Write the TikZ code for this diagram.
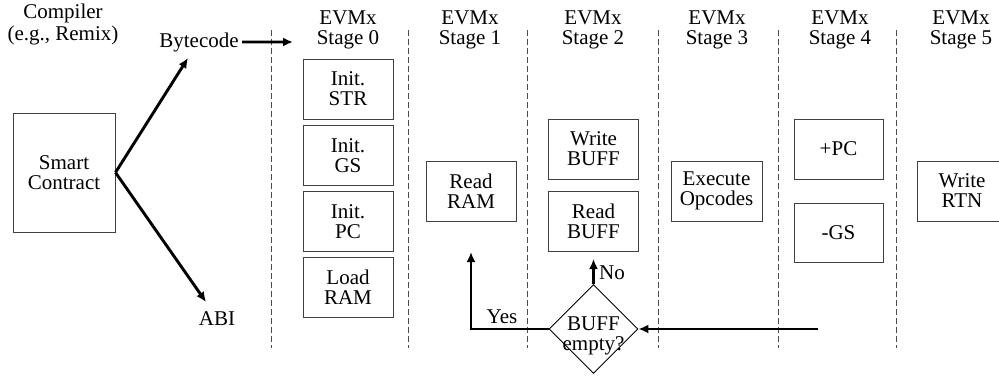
\documentclass[tikz,border=0pt]{standalone}
\usepackage{fontspec}
\setmainfont{Liberation Serif}
\usetikzlibrary{arrows.meta,shapes.geometric}
\begin{document}
\begin{tikzpicture}[x=1pt,y=-1pt,
  every node/.style={font=\fontsize{21}{20}\selectfont},
  stagebox/.style={draw=black!75,line width=1pt,minimum width=90pt,minimum height=60pt,inner sep=0pt,align=center},
  header/.style={anchor=north,inner sep=0pt,align=center},
  divider/.style={draw=black!70,line width=0.9pt,dash pattern=on 5.5pt off 3.5pt},
  flow/.style={line width=2.9pt,-{Latex[length=10pt,width=9pt]}}]
\useasboundingbox (0,0) rectangle (999,380);

% stage dividers
\foreach \xx/\nm in {271/d0,408/d1,527/d2,658/d3,778/d4,896/d5}{
  \coordinate (\nm top) at (\xx,30);
  \coordinate (\nm bot) at (\xx,348);
  \draw[divider] (\nm top) -- (\nm bot);
}

% headers
\node[header,font=\fontsize{21}{22.5}\selectfont] (comp) at (63,3.5) {Compiler\\(e.g., Remix)};
\node[header] (h0) at (348,11) {EVMx\\Stage 0};
\node[header] (h1) at (470,11) {EVMx\\Stage 1};
\node[header] (h2) at (593,11) {EVMx\\Stage 2};
\node[header] (h3) at (717,11) {EVMx\\Stage 3};
\node[header] (h4) at (840,11) {EVMx\\Stage 4};
\node[header] (h5) at (961,11) {EVMx\\Stage 5};

% source side
\node[stagebox,minimum width=102pt,minimum height=119pt] (sc) at (64,172.5) {Smart\\Contract};
\node[anchor=base] (byte) at (199,47) {Bytecode};
\node[anchor=base] (abi) at (217,325) {ABI};
\coordinate (byteTip) at (188,58);
\coordinate (abiTip) at (206,302);
\coordinate (stage0In) at (293,42);
\draw[flow] (sc.east) -- (byteTip);
\draw[flow] (sc.east) -- (abiTip);
\draw[flow] (byte.east) -- (stage0In);

% stage 0
\node[stagebox] (str) at (348,89) {Init.\\STR};
\node[stagebox] (gs) at (348,155.5) {Init.\\GS};
\node[stagebox] (pc) at (348,221.5) {Init.\\PC};
\node[stagebox] (load) at (348,287.5) {Load\\RAM};

% stage 1
\node[stagebox] (rram) at (471,191) {Read\\RAM};

% stage 2
\node[stagebox] (wbuff) at (593.5,149) {Write\\BUFF};
\node[stagebox] (rbuff) at (593.5,221) {Read\\BUFF};

% stage 3
\node[stagebox,minimum width=91pt] (exec) at (716.5,191) {Execute\\Opcodes};

% stage 4
\node[stagebox,minimum width=89pt] (incpc) at (838.5,149) {+PC};
\node[stagebox,minimum width=89pt,minimum height=59pt] (decgs) at (838.5,232.5) {-GS};

% stage 5
\node[stagebox] (wrtn) at (962,191) {Write\\RTN};

% decision
\node[draw,line width=0.9pt,shape=diamond,minimum width=89pt,minimum height=89pt,inner sep=0pt] (dec) at (593.5,329) {};
\node[inner sep=0pt,align=center] (decText) at (593.5,336) {BUFF\\empty?};

\coordinate (loopIn) at (818,329);
\coordinate (yesTip) at (471,252);
\coordinate (noTip) at (593.5,259);
\draw[flow] (loopIn) -- (dec.east);
\draw[flow] (dec.west) -| (yesTip);
\draw[flow] (dec.north) -- (noTip);
\node[anchor=base] (yes) at (502,323) {Yes};
\node[anchor=base west,inner sep=0pt] (no) at (599,279) {No};
\end{tikzpicture}
\end{document}
